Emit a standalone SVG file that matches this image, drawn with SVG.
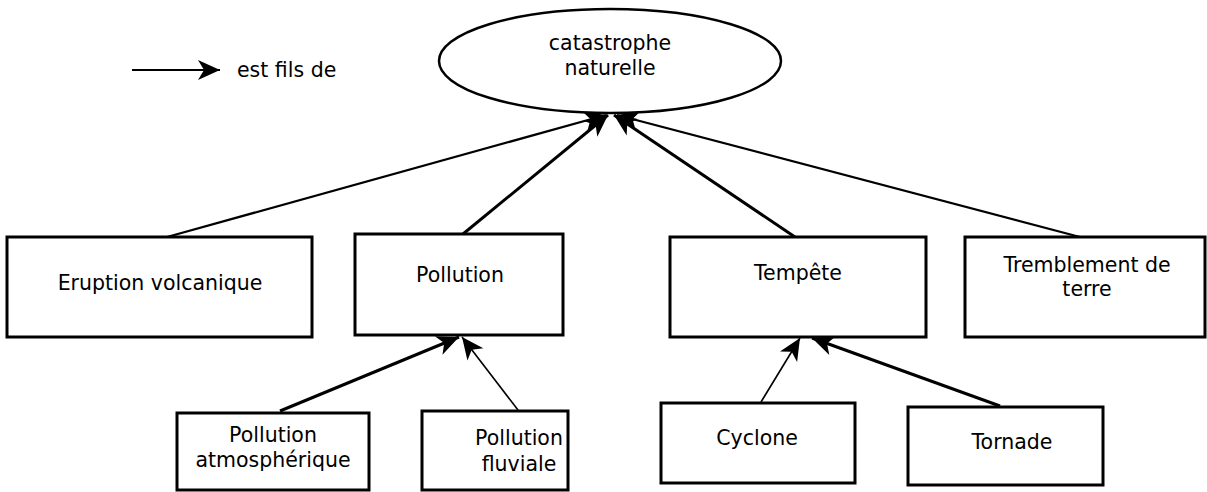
<svg xmlns="http://www.w3.org/2000/svg" width="1207" height="492" viewBox="0 0 1207 492">
<style>
.box{fill:#fff;stroke:#000;stroke-width:3}
.lbl{font-family:"DejaVu Sans",sans-serif;font-size:20.5px;fill:#000;text-anchor:middle}
.e{stroke:#000;fill:none}
.thick{stroke-width:3}
.mid{stroke-width:2.2}
.thin{stroke-width:1.6}
</style>
<defs>
<marker id="ah" viewBox="-23 -11 24 22" refX="0" refY="0" markerWidth="24" markerHeight="22" markerUnits="userSpaceOnUse" orient="auto">
<path d="M0,0 L-22,-10 L-16,0 L-22,10 Z" fill="#000"/>
</marker>
</defs>
<rect width="1207" height="492" fill="#fff"/>
<g id="legend">
<line class="e mid" x1="132" y1="70" x2="220" y2="70" marker-end="url(#ah)"/>
<text class="lbl" x="237" y="77" style="text-anchor:start">est fils de</text>
</g>
<g id="connectors">
<line class="e mid" x1="167" y1="237" x2="606" y2="115" marker-end="url(#ah)"/>
<line class="e thick" x1="463" y1="234" x2="608" y2="115" marker-end="url(#ah)"/>
<line class="e thick" x1="795" y1="237" x2="614" y2="115" marker-end="url(#ah)"/>
<line class="e mid" x1="1080" y1="237" x2="617" y2="115" marker-end="url(#ah)"/>
<line class="e thick" x1="280" y1="411" x2="459" y2="337" marker-end="url(#ah)"/>
<line class="e thin" x1="518" y1="410" x2="462" y2="337" marker-end="url(#ah)"/>
<line class="e thin" x1="761" y1="402" x2="800" y2="338" marker-end="url(#ah)"/>
<line class="e thick" x1="1000" y1="406" x2="812" y2="338" marker-end="url(#ah)"/>
</g>
<g id="catastrophe">
<ellipse cx="610" cy="61" rx="171" ry="52" fill="#fff" stroke="#000" stroke-width="2.5"/>
<text class="lbl" x="610" y="50">catastrophe</text>
<text class="lbl" x="610" y="75">naturelle</text>
</g>
<g id="eruption">
<rect class="box" x="7" y="237" width="305" height="100"/>
<text class="lbl" x="160" y="290">Eruption volcanique</text>
</g>
<g id="pollution">
<rect class="box" x="355" y="234" width="208" height="101"/>
<text class="lbl" x="460" y="282">Pollution</text>
</g>
<g id="tempete">
<rect class="box" x="670" y="237" width="256" height="100"/>
<text class="lbl" x="798" y="280">Tempête</text>
</g>
<g id="tremblement">
<rect class="box" x="965" y="237" width="240" height="100"/>
<text class="lbl" x="1087" y="272">Tremblement de</text>
<text class="lbl" x="1087" y="296">terre</text>
</g>
<g id="pollution-atmospherique">
<rect class="box" x="177" y="413" width="192" height="77"/>
<text class="lbl" x="273" y="442">Pollution</text>
<text class="lbl" x="273" y="467">atmosphérique</text>
</g>
<g id="pollution-fluviale">
<rect class="box" x="422" y="411" width="146" height="79"/>
<text class="lbl" x="519" y="445">Pollution</text>
<text class="lbl" x="519" y="471">fluviale</text>
</g>
<g id="cyclone">
<rect class="box" x="661" y="403" width="194" height="80"/>
<text class="lbl" x="757" y="445">Cyclone</text>
</g>
<g id="tornade">
<rect class="box" x="908" y="407" width="195" height="78"/>
<text class="lbl" x="1012" y="449">Tornade</text>
</g>
</svg>
